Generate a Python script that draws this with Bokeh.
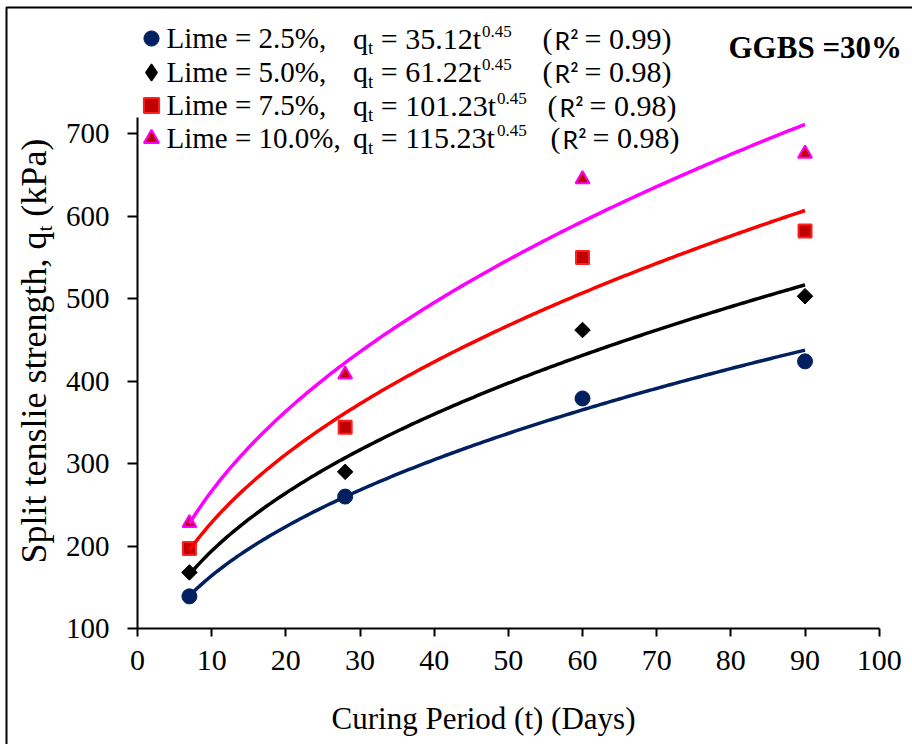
import numpy as np
from bokeh.plotting import figure
from bokeh.models import (Range1d, FixedTicker, Label, Legend, LegendItem,
                          BoxAnnotation)
from bokeh.embed import file_html
from bokeh.resources import INLINE

# ---- data -----------------------------------------------------------------
days = [7, 28, 60, 90]
lime_2_5 = [139, 260, 379, 424]
lime_5_0 = [168, 290, 462, 503]
lime_7_5 = [197, 344, 550, 582]
lime_10_0 = [228, 408, 645, 676]

series_labels = ["Lime = 2.5%,", "Lime = 5.0%,", "Lime = 7.5%,", "Lime = 10.0%,"]
eq_coefs = ["35.12", "61.22", "101.23", "115.23"]
eq_exponent = "0.45"
r2_values = ["0.99", "0.98", "0.98", "0.98"]

x_ticks = [0, 10, 20, 30, 40, 50, 60, 70, 80, 90, 100]
y_ticks = [100, 200, 300, 400, 500, 600, 700]

# ---- page geometry (canvas pixels) -----------------------------------------
W, H = 912, 744
AX_X, AX_Y = 137, 628          # where x=0 and y=100 sit on the canvas
PX_PER_DAY = 7.417
PX_PER_KPA = 0.8245
SERIF = "Liberation Serif"

# the frame fills the whole canvas; axes are pinned at x=0 / y=100
p = figure(width=W, height=H, output_backend="svg", toolbar_location=None,
           x_range=Range1d(-AX_X / PX_PER_DAY, (W - AX_X) / PX_PER_DAY),
           y_range=Range1d(100 - (H - AX_Y) / PX_PER_KPA, 100 + AX_Y / PX_PER_KPA),
           min_border=0)
p.outline_line_color = None
p.grid.visible = False
p.background_fill_color = "white"
p.border_fill_color = "white"

for ax in (p.xaxis[0], p.yaxis[0]):
    ax.axis_line_width = 2
    ax.axis_line_color = "black"
    ax.major_tick_line_width = 2
    ax.major_tick_line_color = "black"
    ax.minor_tick_line_color = None
    ax.major_tick_in = 0
    ax.major_label_text_font = SERIF
    ax.major_label_text_color = "black"

p.xaxis.fixed_location = 100
p.xaxis.ticker = FixedTicker(ticks=x_ticks)
p.xaxis.bounds = (0, 100)
p.xaxis.major_tick_out = 8
p.xaxis.major_label_standoff = 14
p.xaxis.major_label_text_font_size = "30px"

p.yaxis.fixed_location = 0
p.yaxis.ticker = FixedTicker(ticks=y_ticks)
p.yaxis.bounds = (100, 720)
p.yaxis.major_tick_out = 10
p.yaxis.major_label_standoff = 18
p.yaxis.major_label_text_font_size = "29px"

# ---- points and power-law trendlines ---------------------------------------
series = [
    (lime_2_5, dict(marker="circle", size=15, fill_color="#002060",
                    line_color="#002060", line_width=1), "#002060", "circle"),
    (lime_5_0, dict(marker="square", angle=np.pi / 4, size=11,
                    fill_color="black", line_color="black", line_width=1),
     "black", "diamond"),
    (lime_7_5, dict(marker="square", size=13, fill_color="#C00000",
                    line_color="#FF2020", line_width=2), "#FF0000", "square"),
    (lime_10_0, dict(marker="triangle", size=14, fill_color="#C00000",
                     line_color="#FF00FF", line_width=2), "#FF00FF", "triangle"),
]

t = np.asarray(days, dtype=float)
t_fit = np.linspace(t.min(), t.max(), 200)
key_renderers = []
key_boxes = []
for vals, mstyle, curve_color, key_marker in series:
    r = p.scatter(days, vals, **mstyle)
    box = 38
    if mstyle.get("angle"):
        # upright key glyph for the legend (legend keys ignore marker angle)
        r = p.scatter(days, vals, marker=key_marker, fill_color=mstyle["fill_color"],
                      line_color=mstyle["line_color"], line_width=1.5,
                      visible=False)
        box = 42
    key_renderers.append(r)
    key_boxes.append(box)
for vals, mstyle, curve_color, key_marker in series:
    b, ln_a = np.polyfit(np.log(t), np.log(np.asarray(vals, dtype=float)), 1)
    p.line(t_fit, np.exp(ln_a) * t_fit ** b, line_color=curve_color,
           line_width=3.5)

# ---- text helpers (canvas px, measured from the top-left) -----------------
TIMES = {' ': 250, '(': 333, ')': 333, '.': 250, ',': 250, '=': 564,
         '%': 833, 'q': 500, 't': 278, 'S': 556, 'p': 500, 'l': 278,
         'i': 278, 'e': 444, 'n': 500, 's': 389, 'r': 333, 'g': 500,
         'h': 500, 'k': 500, 'P': 556, 'a': 444}
TIMES.update({d: 500 for d in "0123456789"})
BASELINE_SHIFT = 0.33   # alphabetic anchor correction, in em


def text_width(s, size):
    return sum(TIMES[c] for c in s) * size / 1000.0


def put(text, cx, cy, size, font=SERIF, style="normal", vertical=False,
        align="left"):
    if vertical:
        cx -= BASELINE_SHIFT * size
    else:
        cy -= BASELINE_SHIFT * size
    p.add_layout(Label(x=cx, y=H - cy, x_units="screen", y_units="screen",
                       text=text, text_font=font, text_font_size=f"{size}px",
                       text_font_style=style, text_color="black",
                       text_baseline="alphabetic", text_align=align,
                       angle=np.pi / 2 if vertical else 0.0))


# ---- legend keys, labels and fitted equations ------------------------------
key_rows = [38, 71.5, 105, 137.5]
KEY_X = 151
r2_x = [542, 542, 547, 550]
MAIN, SUB, SUP = 30, 19, 17
for lab, r, box, coef, r2, cy, xr in zip(series_labels, key_renderers, key_boxes,
                                          eq_coefs, r2_values, key_rows, r2_x):
    p.add_layout(Legend(
        items=[LegendItem(label=" ", renderers=[r])],
        location=(KEY_X - box / 2, H - cy - box / 2), glyph_width=box,
        glyph_height=box, label_height=box, label_standoff=0, padding=0,
        margin=0, background_fill_alpha=0, border_line_alpha=0,
        inactive_fill_alpha=0, label_text_font_size="10px"))
    base = cy + 9.5
    put(lab, 166, base, 29)

    x = 352.5
    put("q", x, base, MAIN)
    x += text_width("q", MAIN)
    put("t", x, base + 6, SUB)
    x += text_width("t", SUB) + text_width(" ", MAIN)
    body = f"= {coef}t"
    put(body, x, base, MAIN)
    x += text_width(body, MAIN) + 1
    put(eq_exponent, x, base - 11, SUP)

    put("(", xr, base, MAIN)
    put("R²", xr + 12, base, 25, font="Lato")
    put(f"= {r2})", xr + 42, base, MAIN)

put("GGBS =30%", 728, 57, 31, style="bold")

# ---- axis titles -----------------------------------------------------------
put("Curing Period (t) (Days)", 483, 728, 31, align="center")

YT, YS = 36, 21
y_pos = 563
part1 = "Split tenslie strength, q"
put(part1, 45, y_pos, YT, vertical=True)
y_pos -= text_width(part1, YT)
put("t", 51, y_pos, YS, vertical=True)
y_pos -= text_width("t", YS) + text_width(" ", YT)
put("(kPa)", 45, y_pos, YT, vertical=True)

# ---- outer border of the figure --------------------------------------------
p.add_layout(BoxAnnotation(left=6, right=W + 20, top=H - 7, bottom=-20,
                           left_units="screen", right_units="screen",
                           top_units="screen", bottom_units="screen",
                           fill_alpha=0, line_color="black", line_alpha=1,
                           line_width=2))

open("out.html", "w").write(file_html(p, INLINE))
